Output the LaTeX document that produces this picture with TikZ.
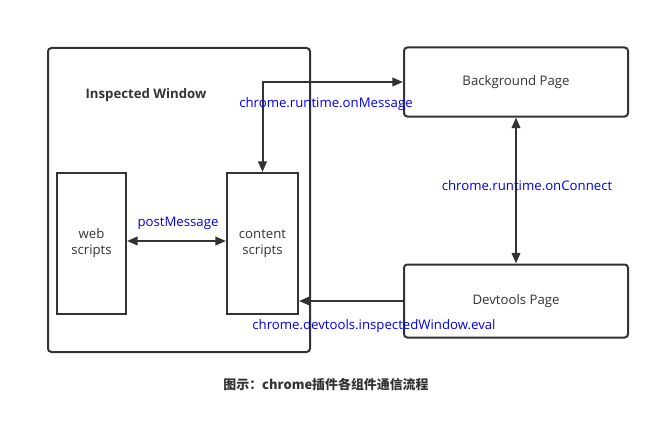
\documentclass[tikz,border=0pt]{standalone}
\usepackage{fontspec}
\setmainfont{Open Sans}
\newfontfamily\cjk{Noto Sans CJK SC}
\usetikzlibrary{arrows.meta}
\definecolor{linegray}{HTML}{333333}
\definecolor{apiblue}{HTML}{0000F0}

\begin{document}
\begin{tikzpicture}[x=0.75pt,y=-0.75pt,font=\fontsize{9.9}{12}\selectfont,
  box/.style={draw=linegray,line width=1.5pt,rounded corners=2.5pt,inner sep=0pt,text=linegray,align=center},
  conn/.style={draw=linegray,line width=1.5pt,>={Triangle[length=8pt,width=6.5pt]}},
  api/.style={text=apiblue,inner sep=0pt}]
\useasboundingbox (0,0) rectangle (660,435);
% boxes
\node[box,minimum width=196.5pt,minimum height=228pt] (win) at (179,200) {};
\node[text=linegray,font=\fontsize{9.9}{12}\selectfont\bfseries] (wintitle) at (146,95) {Inspected Window};
\node[box,rounded corners=0pt,minimum width=51.75pt,minimum height=105.75pt] (web) at (91.5,243.5) {web\\scripts};
\node[box,rounded corners=0pt,minimum width=53.25pt,minimum height=105.75pt] (content) at (262.5,243.5) {content\\scripts};
\node[box,minimum width=168pt,minimum height=51.75pt] (bg) at (516,82) {Background Page};
\node[box,minimum width=168pt,minimum height=54.75pt] (dev) at (516,301) {Devtools Page};
% connectors
\draw[conn,<->] (content.north) |- (bg.west);
\draw[conn,<->] (bg.south) -- (dev.north);
\draw[conn,->] (dev.west) -- (content.east |- dev.west);
\draw[conn,<->] (web.east |- 0,241) -- (content.west |- 0,241);
% labels
\node[api] (lmsg) at (326,104) {chrome.runtime.onMessage};
\node[api] (lconn) at (527,186) {chrome.runtime.onConnect};
\node[api] (leval) at (374,326) {chrome.devtools.inspectedWindow.eval};
\node[api] (lpost) at (178,223) {postMessage};
\node[text=linegray,font=\cjk\fontsize{9.7}{12}\selectfont\bfseries] (caption) at (326,385) {图示：chrome插件各组件通信流程};
\end{tikzpicture}
\end{document}
